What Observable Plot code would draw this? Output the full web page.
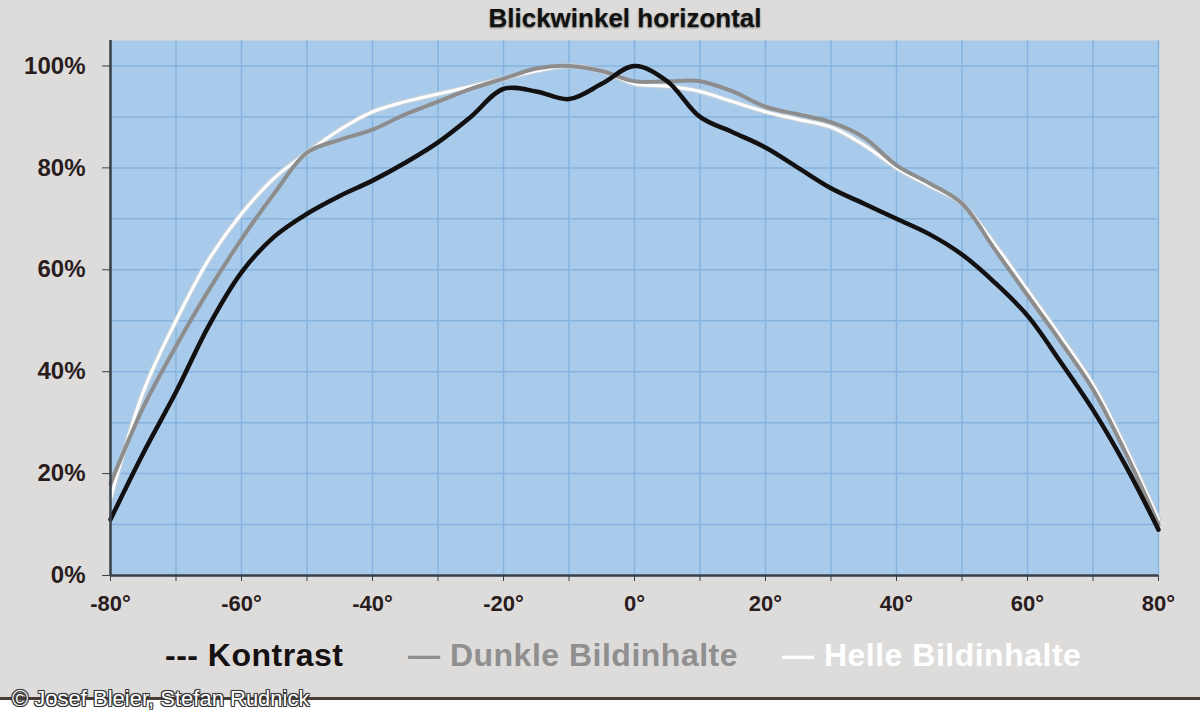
<!DOCTYPE html>
<html>
<head>
<meta charset="utf-8">
<script src="https://cdn.jsdelivr.net/npm/d3@7"></script>
<script src="https://cdn.jsdelivr.net/npm/@observablehq/plot@0.6"></script>
<style>
  html, body { margin: 0; padding: 0; }
  body { width: 1200px; height: 720px; background: #ffffff; position: relative; overflow: hidden; font-family: "Liberation Sans", Arial, sans-serif; }
  #bg { position: absolute; left: 0; top: 0; width: 1200px; height: 697px; background: #dedcdb; border-bottom: 3px solid #4a3d38; }
  #title { position: absolute; top: 3px; left: 0; width: 1250px; text-align: center; font-size: 26px; line-height: 30px; font-weight: bold; color: #111; text-shadow: 0 1px 2px #666; }
  #chart { position: absolute; left: 0; top: 0; }
  .leg { position: absolute; top: 637px; font-size: 32px; font-weight: bold; white-space: pre; letter-spacing: 0.5px; }
  #caption { position: absolute; left: 12px; top: 686px; font-size: 22px; color: #fff; white-space: pre;
    text-shadow: -1px -1px 0 #333, 1px -1px 0 #333, -1px 1px 0 #333, 1px 1px 0 #333, 0 0 2px #222; }
  #chart svg g[aria-label="y-axis tick label"] { font-size: 24px; }
</style>
</head>
<body>
<div id="bg"></div>
<div id="title">Blickwinkel horizontal</div>
<div id="chart"></div>
<div class="leg" style="left:165px;color:#161111">--- Kontrast</div>
<div class="leg" style="left:408px;color:#8f8f8f">— Dunkle Bildinhalte</div>
<div class="leg" style="left:782px;color:#ffffff">— Helle Bildinhalte</div>
<div id="caption">© Josef Bleier, Stefan Rudnick</div>
<script>
const angles = [-80,-75,-70,-65,-60,-55,-50,-45,-40,-35,-30,-25,-20,-15,-10,-5,0,5,10,15,20,25,30,35,40,45,50,55,60,65,70,75,80];
const kontrast = [11,24,36,49,59.5,66.5,71,74.5,77.5,81,85,90,95.5,95,93.5,96.5,100,97,90,87,84,80,76,73,70,67,63,57.5,51,42,32.5,21.5,9];
const dunkle   = [18,33,45,56,66,75,83,85.5,87.5,90.5,93,95.5,97.5,99.5,100,99,97,97,97,95,92,90.5,89,86,80.5,77,73,64,55,46,36.5,24,10];
const helle    = [15,36,50,62,71,78,83,87.5,91,93,94.5,96,97.5,99,100,99,96.5,96,95,93,91,89.5,88,84.5,80,76.5,73,65,56,47,37.5,25,11];
const xTicks = [-80,-60,-40,-20,0,20,40,60,80];
const yTicks = [0,20,40,60,80,100];

const rows = (vals) => angles.map((a, i) => ({a, v: vals[i]}));
const grid10x = d3.range(-80, 81, 10);
const grid10y = d3.range(0, 101, 10);

const chart = Plot.plot({
  width: 1200,
  height: 630,
  marginLeft: 110,
  marginRight: 42,
  marginTop: 40,
  marginBottom: 55,
  style: { fontFamily: "'Liberation Sans', Arial, sans-serif", fontSize: "22px", fontWeight: "bold", color: "#2a1d1d", background: "transparent", overflow: "visible" },
  x: { domain: [-80, 80], label: null },
  y: { domain: [0, 105], label: null },
  marks: [
    Plot.frame({ fill: "#a9cbeb", stroke: null }),
    Plot.ruleX(grid10x, { stroke: "#86b4de", strokeWidth: 1.5 }),
    Plot.ruleY(grid10y, { stroke: "#86b4de", strokeWidth: 1.5 }),
    Plot.line(rows(helle), { x: "a", y: "v", stroke: "#c3d0da", strokeWidth: 5.5, curve: "catmull-rom" }),
    Plot.line(rows(helle), { x: "a", y: "v", stroke: "#ffffff", strokeWidth: 3, curve: "catmull-rom" }),
    Plot.line(rows(dunkle), { x: "a", y: "v", stroke: "#8d8d8d", strokeWidth: 4, curve: "catmull-rom" }),
    Plot.line(rows(kontrast), { x: "a", y: "v", stroke: "#121010", strokeWidth: 4.5, curve: "catmull-rom" }),
    Plot.ruleX([-80], { stroke: "#384048", strokeWidth: 2.5 }),
    Plot.ruleY([0], { stroke: "#384048", strokeWidth: 2.5 }),
    Plot.axisY({ ticks: yTicks, tickFormat: d => d + "%", tickSize: 8, tickPadding: 17, stroke: "#384048", label: null }),
    Plot.axisX({ ticks: grid10x, tickFormat: () => "", tickSize: 6, stroke: "#384048", label: null }),
    Plot.axisX({ ticks: xTicks, tickFormat: d => d + "°", tickSize: 6, tickPadding: 14, stroke: "#384048", label: null })
  ]
});
document.getElementById("chart").appendChild(chart);
</script>
</body>
</html>
